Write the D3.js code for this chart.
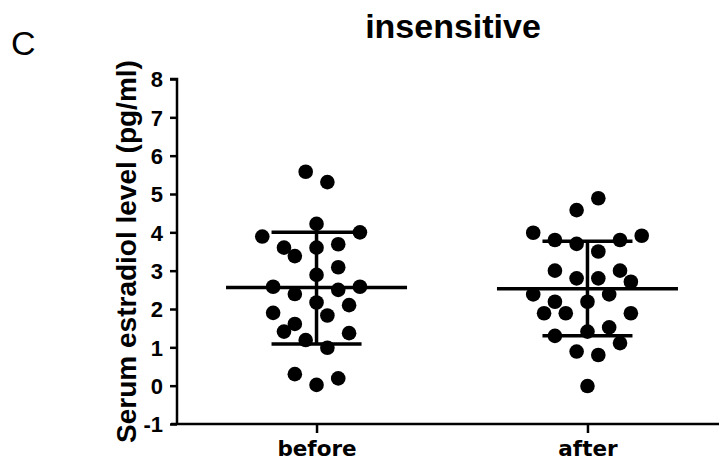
<!DOCTYPE html>
<html><head><meta charset="utf-8">
<script src="https://cdn.jsdelivr.net/npm/d3@7"></script>
<style>body{margin:0;background:#fff}svg{display:block}</style>
</head><body>
<svg id="c" width="719" height="472"></svg>
<script>
const groups = ["before", "after"];
const yTicks = [-1, 0, 1, 2, 3, 4, 5, 6, 7, 8];
// values and beeswarm slot index (column) per point
const beforeValues = [5.58,5.31,4.22,3.89,4.0,3.6,3.38,3.6,3.69,3.09,2.89,2.58,2.39,2.50,2.58,2.17,2.10,1.90,1.83,1.61,1.41,1.37,1.19,0.99,0.30,0.02,0.19];
const beforeSlots  = [-1,1,0,-5,4,-3,-2,0,2,2,0,-4,-2,2,4,0,3,-4,1,-2,-3,3,-1,1,-2,0,2];
const afterValues  = [4.89,4.58,3.99,3.80,3.70,3.80,3.91,3.50,3.00,2.80,2.80,3.00,2.71,2.38,2.19,2.19,2.38,1.89,1.89,1.89,1.41,1.52,1.30,1.11,0.89,0.80,-0.01];
const afterSlots   = [1,-1,-5,-3,-1,3,5,1,-3,-1,1,3,4,-5,-3,0,2,-4,-2,4,0,2,-3,3,-1,1,0];
const means   = [2.56, 2.53];
const sdUpper = [4.00, 3.77];
const sdLower = [1.09, 1.30];

const svg = d3.select("#c");
const x0 = 177, yTop = 79, yBot = 424;
const y = d3.scaleLinear().domain([-1, 8]).range([yBot, yTop]);
const x = d3.scalePoint().domain(groups).range([x0, 727]).padding(0.515);
const slotW = 10.85;

// title and panel letter
svg.append("text").attr("x", 453).attr("y", 38).attr("text-anchor", "middle")
  .attr("font-family", "Liberation Sans, Arial, sans-serif").attr("font-weight", "bold")
  .attr("font-size", 34).text("insensitive");
svg.append("text").attr("x", 11).attr("y", 55)
  .attr("font-family", "Liberation Sans, Arial, sans-serif")
  .attr("font-size", 34).text("C");

// y axis
const yAxis = svg.append("g").attr("transform", `translate(${x0},0)`)
  .call(d3.axisLeft(y).tickValues(yTicks).tickFormat(d => String(d)).tickSize(7).tickPadding(7));
yAxis.select(".domain").attr("stroke-width", 2.5).attr("d", `M-7,${yTop}H0V${yBot}`);
yAxis.selectAll(".tick line").attr("stroke-width", 2.5);
yAxis.selectAll("text").attr("font-family", "Liberation Sans, Arial, sans-serif")
  .attr("font-weight", "bold").attr("font-size", 22).attr("fill", "#000").attr("dy", "0.36em");

// x axis
const xAxis = svg.append("g").attr("transform", `translate(0,${yBot})`)
  .call(d3.axisBottom(x).tickSize(9).tickPadding(8));
xAxis.select(".domain").attr("stroke-width", 2.5).attr("d", `M${x0 - 6},0H727`);
xAxis.selectAll(".tick line").attr("stroke-width", 2.5);
xAxis.selectAll("text").attr("font-family", "DejaVu Sans, Verdana, sans-serif")
  .attr("font-weight", "bold").attr("font-size", 21.5).attr("fill", "#000");

// y axis title
svg.append("text").attr("transform", `translate(136,${(yTop + yBot) / 2}) rotate(-90)`)
  .attr("text-anchor", "middle").attr("font-family", "Liberation Sans, Arial, sans-serif")
  .attr("font-weight", "bold").attr("font-size", 28).text("Serum estradiol level (pg/ml)");

// mean & SD
groups.forEach((g, i) => {
  const cx = x(g);
  const gg = svg.append("g").attr("stroke", "#000").attr("stroke-width", 3.5);
  gg.append("line").attr("x1", cx).attr("x2", cx).attr("y1", y(sdUpper[i])).attr("y2", y(sdLower[i]));
  gg.append("line").attr("x1", cx - 45).attr("x2", cx + 45).attr("y1", y(sdUpper[i])).attr("y2", y(sdUpper[i]));
  gg.append("line").attr("x1", cx - 45).attr("x2", cx + 45).attr("y1", y(sdLower[i])).attr("y2", y(sdLower[i]));
  gg.append("line").attr("x1", cx - 90.5).attr("x2", cx + 90.5).attr("y1", y(means[i])).attr("y2", y(means[i]));
});

// points
const pts = [
  ...beforeValues.map((v, i) => ({g: "before", v, s: beforeSlots[i]})),
  ...afterValues.map((v, i) => ({g: "after", v, s: afterSlots[i]}))
];
svg.append("g").selectAll("circle").data(pts).join("circle")
  .attr("cx", d => x(d.g) + d.s * slotW)
  .attr("cy", d => y(d.v))
  .attr("r", 7.3).attr("fill", "#000");
</script>
</body></html>
